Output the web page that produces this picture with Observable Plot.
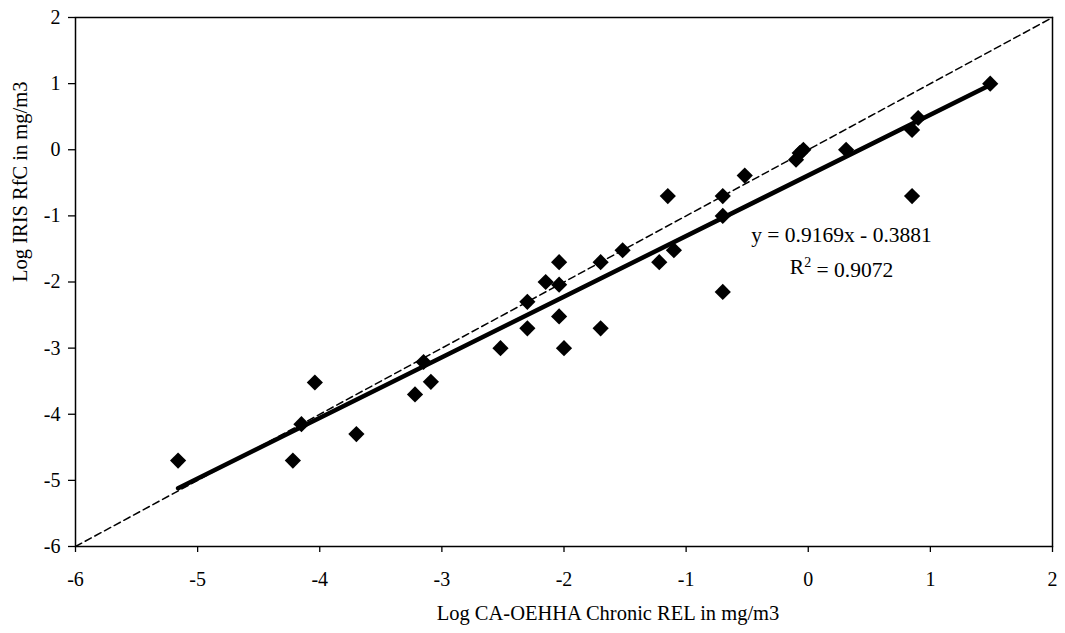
<!DOCTYPE html>
<html>
<head>
<meta charset="utf-8">
<script src="https://cdn.jsdelivr.net/npm/d3@7"></script>
<script src="https://cdn.jsdelivr.net/npm/@observablehq/plot@0.6"></script>
<style>
  html, body { margin: 0; padding: 0; background: #fff; }
  svg { display: block; }
</style>
</head>
<body>
<div id="chart"></div>
<script>
// Log CA-OEHHA Chronic REL (x) vs Log IRIS RfC (y), mg/m3
const relLog = [-5.16, -4.22, -4.15, -4.04, -3.70, -3.15, -3.22, -3.09, -2.52, -2.30, -2.30,
                -2.15, -2.04, -2.04, -2.04, -2.00, -1.70, -1.70, -1.52, -1.15, -1.22, -1.10,
                -0.70, -0.70, -0.70, -0.52, -0.10, -0.07, -0.04, 0.31, 0.85, 0.85, 0.90, 1.49];
const rfcLog = [-4.70, -4.70, -4.15, -3.52, -4.30, -3.21, -3.70, -3.51, -3.00, -2.30, -2.70,
                -2.00, -1.70, -2.04, -2.52, -3.00, -1.70, -2.70, -1.52, -0.70, -1.70, -1.52,
                -0.70, -1.00, -2.15, -0.39, -0.15, -0.05, 0.00, 0.00, 0.30, -0.70, 0.48, 1.00];

const slope = 0.9169;
const intercept = -0.3881;
const rSquared = 0.9072;

const axisDomain = [-6, 2];
const xTicks = [-6, -5, -4, -3, -2, -1, 0, 1, 2];
const yTicks = [-6, -5, -4, -3, -2, -1, 0, 1, 2];

const xLabel = "Log CA-OEHHA Chronic REL in mg/m3";
const yLabel = "Log IRIS RfC in mg/m3";

const points = relLog.map((x, i) => ({x, y: rfcLog[i]}));
const xMin = d3.min(relLog), xMax = d3.max(relLog);
const fitLine = [xMin, xMax].map(x => ({x, y: slope * x + intercept}));
const identity = axisDomain.map(v => ({x: v, y: v}));
const eqText = `y = ${slope}x - ${Math.abs(intercept)}`;
const r2Text = `R2 = ${rSquared}`;

const chart = Plot.plot({
  width: 1065,
  height: 633,
  marginLeft: 75,
  marginRight: 13,
  marginTop: 17,
  marginBottom: 87,
  style: {fontFamily: "'Liberation Serif', 'Times New Roman', serif", fontSize: "20px", color: "#000", background: "#fff"},
  x: {domain: axisDomain, ticks: xTicks, tickFormat: d => `${d}`, label: null},
  y: {domain: axisDomain, ticks: yTicks, tickFormat: d => `${d}`, label: null},
  marks: [
    Plot.axisX({ticks: xTicks, tickFormat: d => `${d}`, tickSize: 6, tickPadding: 19, label: null, stroke: "#000", strokeWidth: 1.3}),
    Plot.axisY({ticks: yTicks, tickFormat: d => `${d}`, tickSize: 7, tickPadding: 8, label: null, stroke: "#000", strokeWidth: 1.3}),
    Plot.frame({stroke: "#000", strokeWidth: 1.5}),
    Plot.line(identity, {x: "x", y: "y", stroke: "#000", strokeWidth: 1.5, strokeDasharray: "7,4"}),
    Plot.line(fitLine, {x: "x", y: "y", stroke: "#000", strokeWidth: 4.5, strokeLinecap: "round"}),
    Plot.dot(points, {x: "x", y: "y", symbol: "diamond2", r: 7.3, fill: "#000", stroke: "none"}),
    Plot.text([eqText], {frameAnchor: "top-left", dx: 766, dy: 209, textAnchor: "middle", fill: "#000", fontSize: 21.5}),
    Plot.text([r2Text], {frameAnchor: "top-left", dx: 766, dy: 241, textAnchor: "middle", fill: "#000", fontSize: 21.5, className: "r2-label"}),
    Plot.text([xLabel], {frameAnchor: "bottom", dx: 44, dy: 73, fill: "#000", fontSize: 20.5}),
    Plot.text([yLabel], {frameAnchor: "left", dx: -55, rotate: -90, fill: "#000", fontSize: 20.5})
  ]
});
// render the R² exponent as a real superscript
d3.select(chart).selectAll(".r2-label text").each(function () {
  const t = d3.select(this);
  const rest = t.text().slice(2);
  t.text(null);
  t.append("tspan").text("R");
  t.append("tspan").attr("dy", "-0.45em").attr("font-size", "0.65em").text("2");
  t.append("tspan").attr("dy", "0.45em").text(rest);
});
document.getElementById("chart").appendChild(chart);
</script>
</body>
</html>
